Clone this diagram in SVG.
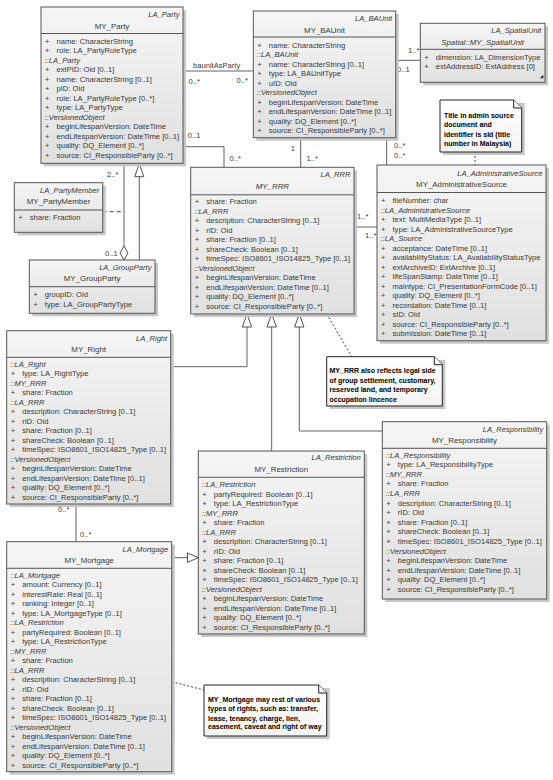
<svg xmlns="http://www.w3.org/2000/svg" width="553" height="780" viewBox="0 0 553 780">
<defs>
<linearGradient id="g" x1="0" y1="0" x2="0" y2="1"><stop offset="0" stop-color="#f5f5f5"/><stop offset="1" stop-color="#e0e0e0"/></linearGradient>
<linearGradient id="gn" x1="0" y1="0" x2="0" y2="1"><stop offset="0" stop-color="#ffffff"/><stop offset="1" stop-color="#f4f4f4"/></linearGradient>
<style>
.sh{fill:#c6c6c6}
.box{fill:url(#g);stroke:#555;stroke-width:1}
.sep{stroke:#555;stroke-width:1}
.t{font-family:"Liberation Sans",Arial,sans-serif;font-size:7.6px;fill:#383838;white-space:pre}
.i{font-style:italic}
.st{text-anchor:end;font-style:italic}
.nm{text-anchor:middle;font-size:7.9px}
.c{stroke:#606060;stroke-width:1;fill:none}
.d{stroke:#444;stroke-width:1;fill:none;stroke-dasharray:2,2}
.dash{stroke:#444;stroke-width:1;fill:none;stroke-dasharray:4,3}
.tri{fill:#fff;stroke:#505050;stroke-width:1}
.note{fill:url(#gn);stroke:#222;stroke-width:1}
.nt{font-family:"Liberation Sans",Arial,sans-serif;font-weight:bold;font-size:7px;fill:#000}
</style>
</defs>
<rect width="553" height="780" fill="#fff"/>

<g id="connectors">
<line class="c" x1="183" y1="71" x2="253.3" y2="71"/>
<text class="t" x="193" y="68.3">baunitAsParty</text>
<text class="t" x="188.5" y="83.7">0..*</text>
<text class="t" x="236.5" y="82.7">0..*</text>
<line class="c" x1="395.7" y1="60.3" x2="420.3" y2="60.3"/>
<text class="t" x="408" y="52.7">1..*</text>
<text class="t" x="397" y="72">0..1</text>
<polyline class="c" points="183,146.7 224,146.7 224,167.3"/>
<text class="t" x="187.7" y="138.4">0..1</text>
<text class="t" x="229.5" y="160.7">0..*</text>
<line class="c" x1="300.7" y1="137.7" x2="300.7" y2="167.3"/>
<text class="t" x="290.8" y="151">1</text>
<text class="t" x="306.5" y="160.7">1..*</text>
<line class="c" x1="386.7" y1="137.7" x2="386.7" y2="165"/>
<text class="t" x="394" y="148.4">0..*</text>
<text class="t" x="394" y="158.4">0..*</text>
<line class="c" x1="354" y1="227" x2="377" y2="227"/>
<text class="t" x="357" y="218.7">1..*</text>
<text class="t" x="365" y="237.7">1..*</text>
<line class="c" x1="124" y1="163.3" x2="124" y2="246"/>
<polygon class="tri" points="124,246 128,253 124,260 120,253"/>
<text class="t" x="107" y="177">2..*</text>
<text class="t" x="105" y="256">0..1</text>
<line class="dash" x1="102.7" y1="211.7" x2="124" y2="211.7"/>
<line class="c" x1="139.3" y1="260" x2="139.3" y2="176.7"/>
<polygon class="tri" points="139.3,163.3 143.8,176.7 134.8,176.7"/>
<polyline class="c" points="170.7,366.7 247,366.7 247,327"/>
<polygon class="tri" points="247,314 251.7,327 242.3,327"/>
<line class="c" x1="271.7" y1="451" x2="271.7" y2="327"/>
<polygon class="tri" points="271.7,314 276.4,327 267,327"/>
<polyline class="c" points="382.3,431 299.3,431 299.3,327"/>
<polygon class="tri" points="299.3,314 304,327 294.6,327"/>
<line class="d" x1="326.7" y1="314" x2="351.7" y2="356.7"/>
<line class="d" x1="475" y1="152" x2="475" y2="165"/>
<line class="c" x1="76" y1="504" x2="76" y2="541.7"/>
<text class="t" x="58" y="511.7">0..*</text>
<text class="t" x="80" y="536.7">0..*</text>
<line class="c" x1="171.7" y1="557.7" x2="187.5" y2="557.7"/>
<polygon class="tri" points="198.3,557.7 187.5,553 187.5,562.4"/>
<line class="d" x1="171.7" y1="681.7" x2="204" y2="690"/>
</g>

<g id="MY_Party" transform="translate(41,7)">
<rect class="sh" x="3" y="3" width="142" height="156.3"/>
<rect class="box" width="142" height="156.3"/>
<line class="sep" x1="0" y1="26.5" x2="142" y2="26.5"/>
<text class="t st" x="138.5" y="9.9">LA_Party</text>
<text class="t nm" x="71" y="21.5">MY_Party</text>
<text class="t" y="36.8"><tspan x="4">+</tspan><tspan x="15.5">name: CharacterString</tspan></text>
<text class="t" y="46.3"><tspan x="4">+</tspan><tspan x="15.5">role: LA_PartyRoleType</tspan></text>
<text class="t i" x="3.5" y="55.8">::LA_Party</text>
<text class="t" y="65.3"><tspan x="4">+</tspan><tspan x="15.5">extPID: Oid [0..1]</tspan></text>
<text class="t" y="74.8"><tspan x="4">+</tspan><tspan x="15.5">name: CharacterString [0..1]</tspan></text>
<text class="t" y="84.3"><tspan x="4">+</tspan><tspan x="15.5">pID: Oid</tspan></text>
<text class="t" y="93.8"><tspan x="4">+</tspan><tspan x="15.5">role: LA_PartyRoleType [0..*]</tspan></text>
<text class="t" y="103.3"><tspan x="4">+</tspan><tspan x="15.5">type: LA_PartyType</tspan></text>
<text class="t i" x="3.5" y="112.8">::VersionedObject</text>
<text class="t" y="122.3"><tspan x="4">+</tspan><tspan x="15.5">beginLifespanVersion: DateTime</tspan></text>
<text class="t" y="131.8"><tspan x="4">+</tspan><tspan x="15.5">endLifespanVersion: DateTime [0..1]</tspan></text>
<text class="t" y="141.3"><tspan x="4">+</tspan><tspan x="15.5">quality: DQ_Element [0..*]</tspan></text>
<text class="t" y="150.8"><tspan x="4">+</tspan><tspan x="15.5">source: CI_ResponsibleParty [0..*]</tspan></text>
</g>

<g id="MY_BAUnit" transform="translate(253.3,11)">
<rect class="sh" x="3" y="3" width="142.4" height="126.7"/>
<rect class="box" width="142.4" height="126.7"/>
<line class="sep" x1="0" y1="26" x2="142.4" y2="26"/>
<text class="t st" x="138.9" y="9.9">LA_BAUnit</text>
<text class="t nm" x="71.2" y="21.5">MY_BAUnit</text>
<text class="t" y="36.7"><tspan x="4">+</tspan><tspan x="15.5">name: CharacterString</tspan></text>
<text class="t i" x="3.5" y="46.2">::LA_BAUnit</text>
<text class="t" y="55.7"><tspan x="4">+</tspan><tspan x="15.5">name: CharacterString [0..1]</tspan></text>
<text class="t" y="65.2"><tspan x="4">+</tspan><tspan x="15.5">type: LA_BAUnitType</tspan></text>
<text class="t" y="74.7"><tspan x="4">+</tspan><tspan x="15.5">uID: Oid</tspan></text>
<text class="t i" x="3.5" y="84.2">::VersionedObject</text>
<text class="t" y="93.7"><tspan x="4">+</tspan><tspan x="15.5">beginLifespanVersion: DateTime</tspan></text>
<text class="t" y="103.2"><tspan x="4">+</tspan><tspan x="15.5">endLifespanVersion: DateTime [0..1]</tspan></text>
<text class="t" y="112.7"><tspan x="4">+</tspan><tspan x="15.5">quality: DQ_Element [0..*]</tspan></text>
<text class="t" y="122.2"><tspan x="4">+</tspan><tspan x="15.5">source: CI_ResponsibleParty [0..*]</tspan></text>
</g>

<g id="MY_SpatialUnit" transform="translate(420.3,23.3)">
<rect class="sh" x="3" y="3" width="124.7" height="59"/>
<rect class="box" width="124.7" height="59"/>
<line class="sep" x1="0" y1="26" x2="124.7" y2="26"/>
<text class="t st" x="121.2" y="10">LA_SpatialUnit</text>
<text class="t nm i" x="62.3" y="21.3">Spatial::MY_SpatialUnit</text>
<text class="t" y="36.7"><tspan x="4">+</tspan><tspan x="15.5">dimension: LA_DimensionType</tspan></text>
<text class="t" y="46.1"><tspan x="4">+</tspan><tspan x="15.5">extAddressID: ExtAddress [0]</tspan></text>
<polygon points="119.5,55 123,51.5 123,55" fill="#222"/>
</g>

<g id="MY_AdministrativeSource" transform="translate(377,165)">
<rect class="sh" x="3" y="3" width="169" height="175.7"/>
<rect class="box" width="169" height="175.7"/>
<line class="sep" x1="0" y1="27.5" x2="169" y2="27.5"/>
<text class="t st" x="165.5" y="10.6">LA_AdministrativeSource</text>
<text class="t nm" x="84.5" y="21.9">MY_AdministrativeSource</text>
<text class="t" y="38.3"><tspan x="4">+</tspan><tspan x="15.5">fileNumber: char</tspan></text>
<text class="t i" x="3.5" y="47.8">::LA_AdministrativeSource</text>
<text class="t" y="57.3"><tspan x="4">+</tspan><tspan x="15.5">text: MultiMediaType [0..1]</tspan></text>
<text class="t" y="66.8"><tspan x="4">+</tspan><tspan x="15.5">type: LA_AdministrativeSourceType</tspan></text>
<text class="t i" x="3.5" y="76.3">::LA_Source</text>
<text class="t" y="85.8"><tspan x="4">+</tspan><tspan x="15.5">acceptance: DateTime [0..1]</tspan></text>
<text class="t" y="95.3"><tspan x="4">+</tspan><tspan x="15.5">availabilityStatus: LA_AvailabilityStatusType</tspan></text>
<text class="t" y="104.8"><tspan x="4">+</tspan><tspan x="15.5">extArchiveID: ExtArchive [0..1]</tspan></text>
<text class="t" y="114.3"><tspan x="4">+</tspan><tspan x="15.5">lifeSpanStamp: DateTime [0..1]</tspan></text>
<text class="t" y="123.8"><tspan x="4">+</tspan><tspan x="15.5">maintype: CI_PresentationFormCode [0..1]</tspan></text>
<text class="t" y="133.3"><tspan x="4">+</tspan><tspan x="15.5">quality: DQ_Element [0..*]</tspan></text>
<text class="t" y="142.8"><tspan x="4">+</tspan><tspan x="15.5">recordation: DateTime [0..1]</tspan></text>
<text class="t" y="152.3"><tspan x="4">+</tspan><tspan x="15.5">sID: Oid</tspan></text>
<text class="t" y="161.8"><tspan x="4">+</tspan><tspan x="15.5">source: CI_ResponsibleParty [0..*]</tspan></text>
<text class="t" y="171.3"><tspan x="4">+</tspan><tspan x="15.5">submission: DateTime [0..1]</tspan></text>
</g>

<g id="MY_RRR" transform="translate(190.7,167.3)">
<rect class="sh" x="3" y="3" width="163.3" height="146.7"/>
<rect class="box" width="163.3" height="146.7"/>
<line class="sep" x1="0" y1="27.5" x2="163.3" y2="27.5"/>
<text class="t st" x="159.8" y="9.3">LA_RRR</text>
<text class="t nm i" x="81.7" y="22.1">MY_RRR</text>
<text class="t" y="37.1"><tspan x="4">+</tspan><tspan x="15.5">share: Fraction</tspan></text>
<text class="t i" x="3.5" y="46.6">::LA_RRR</text>
<text class="t" y="56.1"><tspan x="4">+</tspan><tspan x="15.5">description: CharacterString [0..1]</tspan></text>
<text class="t" y="65.6"><tspan x="4">+</tspan><tspan x="15.5">rID: Oid</tspan></text>
<text class="t" y="75.1"><tspan x="4">+</tspan><tspan x="15.5">share: Fraction [0..1]</tspan></text>
<text class="t" y="84.6"><tspan x="4">+</tspan><tspan x="15.5">shareCheck: Boolean [0..1]</tspan></text>
<text class="t" y="94.1"><tspan x="4">+</tspan><tspan x="15.5">timeSpec: ISO8601_ISO14825_Type [0..1]</tspan></text>
<text class="t i" x="3.5" y="103.6">::VersionedObject</text>
<text class="t" y="113.1"><tspan x="4">+</tspan><tspan x="15.5">beginLifespanVersion: DateTime</tspan></text>
<text class="t" y="122.6"><tspan x="4">+</tspan><tspan x="15.5">endLifespanVersion: DateTime [0..1]</tspan></text>
<text class="t" y="132.1"><tspan x="4">+</tspan><tspan x="15.5">quality: DQ_Element [0..*]</tspan></text>
<text class="t" y="141.6"><tspan x="4">+</tspan><tspan x="15.5">source: CI_ResponsibleParty [0..*]</tspan></text>
</g>

<g id="MY_PartyMember" transform="translate(14.3,182.7)">
<rect class="sh" x="3" y="3" width="88.4" height="49.6"/>
<rect class="box" width="88.4" height="49.6"/>
<line class="sep" x1="0" y1="27.3" x2="88.4" y2="27.3"/>
<text class="t st" x="84.9" y="9.9">LA_PartyMember</text>
<text class="t nm" x="44.2" y="21.7">MY_PartyMember</text>
<text class="t" y="37.3"><tspan x="4">+</tspan><tspan x="15.5">share: Fraction</tspan></text>
</g>

<g id="MY_GroupParty" transform="translate(29.3,260)">
<rect class="sh" x="3" y="3" width="125.7" height="53.3"/>
<rect class="box" width="125.7" height="53.3"/>
<line class="sep" x1="0" y1="26.7" x2="125.7" y2="26.7"/>
<text class="t st" x="122.2" y="9.9">LA_GroupParty</text>
<text class="t nm" x="62.8" y="21">MY_GroupParty</text>
<text class="t" y="37.4"><tspan x="4">+</tspan><tspan x="15.5">groupID: Oid</tspan></text>
<text class="t" y="46.7"><tspan x="4">+</tspan><tspan x="15.5">type: LA_GroupPartyType</tspan></text>
</g>

<g id="MY_Right" transform="translate(6.7,330.7)">
<rect class="sh" x="3" y="3" width="164" height="173.3"/>
<rect class="box" width="164" height="173.3"/>
<line class="sep" x1="0" y1="26.6" x2="164" y2="26.6"/>
<text class="t st" x="160.5" y="10.2">LA_Right</text>
<text class="t nm" x="82" y="21.3">MY_Right</text>
<text class="t i" x="3.5" y="36.3">::LA_Right</text>
<text class="t" y="45.8"><tspan x="4">+</tspan><tspan x="15.5">type: LA_RightType</tspan></text>
<text class="t i" x="3.5" y="55.3">::MY_RRR</text>
<text class="t" y="64.8"><tspan x="4">+</tspan><tspan x="15.5">share: Fraction</tspan></text>
<text class="t i" x="3.5" y="74.3">::LA_RRR</text>
<text class="t" y="83.8"><tspan x="4">+</tspan><tspan x="15.5">description: CharacterString [0..1]</tspan></text>
<text class="t" y="93.3"><tspan x="4">+</tspan><tspan x="15.5">rID: Oid</tspan></text>
<text class="t" y="102.8"><tspan x="4">+</tspan><tspan x="15.5">share: Fraction [0..1]</tspan></text>
<text class="t" y="112.3"><tspan x="4">+</tspan><tspan x="15.5">shareCheck: Boolean [0..1]</tspan></text>
<text class="t" y="121.8"><tspan x="4">+</tspan><tspan x="15.5">timeSpec: ISO8601_ISO14825_Type [0..1]</tspan></text>
<text class="t i" x="3.5" y="131.3">::VersionedObject</text>
<text class="t" y="140.8"><tspan x="4">+</tspan><tspan x="15.5">beginLifespanVersion: DateTime</tspan></text>
<text class="t" y="150.3"><tspan x="4">+</tspan><tspan x="15.5">endLifespanVersion: DateTime [0..1]</tspan></text>
<text class="t" y="159.8"><tspan x="4">+</tspan><tspan x="15.5">quality: DQ_Element [0..*]</tspan></text>
<text class="t" y="169.3"><tspan x="4">+</tspan><tspan x="15.5">source: CI_ResponsibleParty [0..*]</tspan></text>
</g>

<g id="MY_Responsibility" transform="translate(382.3,421.7)">
<rect class="sh" x="3" y="3" width="164.4" height="177.3"/>
<rect class="box" width="164.4" height="177.3"/>
<line class="sep" x1="0" y1="26.6" x2="164.4" y2="26.6"/>
<text class="t st" x="160.9" y="9.9">LA_Responsibility</text>
<text class="t nm" x="82.2" y="21.5">MY_Responsibility</text>
<text class="t i" x="3.5" y="36">::LA_Responsibility</text>
<text class="t" y="45.6"><tspan x="4">+</tspan><tspan x="15.5">type: LA_ResponsibilityType</tspan></text>
<text class="t i" x="3.5" y="55.2">::MY_RRR</text>
<text class="t" y="64.8"><tspan x="4">+</tspan><tspan x="15.5">share: Fraction</tspan></text>
<text class="t i" x="3.5" y="74.4">::LA_RRR</text>
<text class="t" y="84"><tspan x="4">+</tspan><tspan x="15.5">description: CharacterString [0..1]</tspan></text>
<text class="t" y="93.6"><tspan x="4">+</tspan><tspan x="15.5">rID: Oid</tspan></text>
<text class="t" y="103.2"><tspan x="4">+</tspan><tspan x="15.5">share: Fraction [0..1]</tspan></text>
<text class="t" y="112.8"><tspan x="4">+</tspan><tspan x="15.5">shareCheck: Boolean [0..1]</tspan></text>
<text class="t" y="122.4"><tspan x="4">+</tspan><tspan x="15.5">timeSpec: ISO8601_ISO14825_Type [0..1]</tspan></text>
<text class="t i" x="3.5" y="132">::VersionedObject</text>
<text class="t" y="141.6"><tspan x="4">+</tspan><tspan x="15.5">beginLifespanVersion: DateTime</tspan></text>
<text class="t" y="151.2"><tspan x="4">+</tspan><tspan x="15.5">endLifespanVersion: DateTime [0..1]</tspan></text>
<text class="t" y="160.8"><tspan x="4">+</tspan><tspan x="15.5">quality: DQ_Element [0..*]</tspan></text>
<text class="t" y="170.4"><tspan x="4">+</tspan><tspan x="15.5">source: CI_ResponsibleParty [0..*]</tspan></text>
</g>

<g id="MY_Restriction" transform="translate(198.3,451)">
<rect class="sh" x="3" y="3" width="166" height="183"/>
<rect class="box" width="166" height="183"/>
<line class="sep" x1="0" y1="26.3" x2="166" y2="26.3"/>
<text class="t st" x="162.5" y="8.9">LA_Restriction</text>
<text class="t nm" x="83" y="21">MY_Restriction</text>
<text class="t i" x="3.5" y="36">::LA_Restriction</text>
<text class="t" y="45.5"><tspan x="4">+</tspan><tspan x="15.5">partyRequired: Boolean [0..1]</tspan></text>
<text class="t" y="55"><tspan x="4">+</tspan><tspan x="15.5">type: LA_RestrictionType</tspan></text>
<text class="t i" x="3.5" y="64.5">::MY_RRR</text>
<text class="t" y="74"><tspan x="4">+</tspan><tspan x="15.5">share: Fraction</tspan></text>
<text class="t i" x="3.5" y="83.5">::LA_RRR</text>
<text class="t" y="93"><tspan x="4">+</tspan><tspan x="15.5">description: CharacterString [0..1]</tspan></text>
<text class="t" y="102.5"><tspan x="4">+</tspan><tspan x="15.5">rID: Oid</tspan></text>
<text class="t" y="112"><tspan x="4">+</tspan><tspan x="15.5">share: Fraction [0..1]</tspan></text>
<text class="t" y="121.5"><tspan x="4">+</tspan><tspan x="15.5">shareCheck: Boolean [0..1]</tspan></text>
<text class="t" y="131"><tspan x="4">+</tspan><tspan x="15.5">timeSpec: ISO8601_ISO14825_Type [0..1]</tspan></text>
<text class="t i" x="3.5" y="140.5">::VersionedObject</text>
<text class="t" y="150"><tspan x="4">+</tspan><tspan x="15.5">beginLifespanVersion: DateTime</tspan></text>
<text class="t" y="159.5"><tspan x="4">+</tspan><tspan x="15.5">endLifespanVersion: DateTime [0..1]</tspan></text>
<text class="t" y="169"><tspan x="4">+</tspan><tspan x="15.5">quality: DQ_Element [0..*]</tspan></text>
<text class="t" y="178.5"><tspan x="4">+</tspan><tspan x="15.5">source: CI_ResponsibleParty [0..*]</tspan></text>
</g>

<g id="MY_Mortgage" transform="translate(6.7,541.7)">
<rect class="sh" x="3" y="3" width="165" height="230"/>
<rect class="box" width="165" height="230"/>
<line class="sep" x1="0" y1="26.6" x2="165" y2="26.6"/>
<text class="t st" x="161.5" y="10.2">LA_Mortgage</text>
<text class="t nm" x="82.5" y="21.3">MY_Mortgage</text>
<text class="t i" x="3.5" y="36">::LA_Mortgage</text>
<text class="t" y="45.5"><tspan x="4">+</tspan><tspan x="15.5">amount: Currency [0..1]</tspan></text>
<text class="t" y="55"><tspan x="4">+</tspan><tspan x="15.5">interestRate: Real [0..1]</tspan></text>
<text class="t" y="64.5"><tspan x="4">+</tspan><tspan x="15.5">ranking: Integer [0..1]</tspan></text>
<text class="t" y="74"><tspan x="4">+</tspan><tspan x="15.5">type: LA_MortgageType [0..1]</tspan></text>
<text class="t i" x="3.5" y="83.5">::LA_Restriction</text>
<text class="t" y="93"><tspan x="4">+</tspan><tspan x="15.5">partyRequired: Boolean [0..1]</tspan></text>
<text class="t" y="102.5"><tspan x="4">+</tspan><tspan x="15.5">type: LA_RestrictionType</tspan></text>
<text class="t i" x="3.5" y="112">::MY_RRR</text>
<text class="t" y="121.5"><tspan x="4">+</tspan><tspan x="15.5">share: Fraction</tspan></text>
<text class="t i" x="3.5" y="131">::LA_RRR</text>
<text class="t" y="140.5"><tspan x="4">+</tspan><tspan x="15.5">description: CharacterString [0..1]</tspan></text>
<text class="t" y="150"><tspan x="4">+</tspan><tspan x="15.5">rID: Oid</tspan></text>
<text class="t" y="159.5"><tspan x="4">+</tspan><tspan x="15.5">share: Fraction [0..1]</tspan></text>
<text class="t" y="169"><tspan x="4">+</tspan><tspan x="15.5">shareCheck: Boolean [0..1]</tspan></text>
<text class="t" y="178.5"><tspan x="4">+</tspan><tspan x="15.5">timeSpec: ISO8601_ISO14825_Type [0..1]</tspan></text>
<text class="t i" x="3.5" y="188">::VersionedObject</text>
<text class="t" y="197.5"><tspan x="4">+</tspan><tspan x="15.5">beginLifespanVersion: DateTime</tspan></text>
<text class="t" y="207"><tspan x="4">+</tspan><tspan x="15.5">endLifespanVersion: DateTime [0..1]</tspan></text>
<text class="t" y="216.5"><tspan x="4">+</tspan><tspan x="15.5">quality: DQ_Element [0..*]</tspan></text>
<text class="t" y="226"><tspan x="4">+</tspan><tspan x="15.5">source: CI_ResponsibleParty [0..*]</tspan></text>
</g>

<g id="note_title" transform="translate(440,100)">
<path class="sh" d="M3,3 H84.7 V55 H3 Z"/>
<path class="note" d="M0,0 H73.7 L81.7,8 V52 H0 Z"/>
<path class="note" d="M73.7,0 V8 H81.7"/>
<text class="nt" x="4" y="17.5">Title in admin source</text>
<text class="nt" x="4" y="26.8">document and</text>
<text class="nt" x="4" y="36.5">identifier is sId (title</text>
<text class="nt" x="4" y="46.2">number in Malaysia)</text>
</g>

<g id="note_rrr" transform="translate(326.7,356.7)">
<path class="sh" d="M3,3 H118.6 V52.3 H3 Z"/>
<path class="note" d="M0,0 H107.6 L115.6,8 V49.3 H0 Z"/>
<path class="note" d="M107.6,0 V8 H115.6"/>
<text class="nt" x="2.8" y="16.8">MY_RRR also reflects legal side</text>
<text class="nt" x="2.8" y="26.1">of group settlement, customary,</text>
<text class="nt" x="2.8" y="35.8">reserved land, and temporary</text>
<text class="nt" x="2.8" y="45.1">occupation lincence</text>
</g>

<g id="note_mortgage" transform="translate(204,685)">
<path class="sh" d="M3,3 H125.7 V54 H3 Z"/>
<path class="note" d="M0,0 H114.7 L122.7,8 V51 H0 Z"/>
<path class="note" d="M114.7,0 V8 H122.7"/>
<text class="nt" x="4" y="16.5">MY_Mortgage may rest of various</text>
<text class="nt" x="4" y="25.8">types of rights, such as: transfer,</text>
<text class="nt" x="4" y="35.5">lease, tenancy, charge, lien,</text>
<text class="nt" x="4" y="44.2">easement, caveat and right of way</text>
</g>
</svg>
